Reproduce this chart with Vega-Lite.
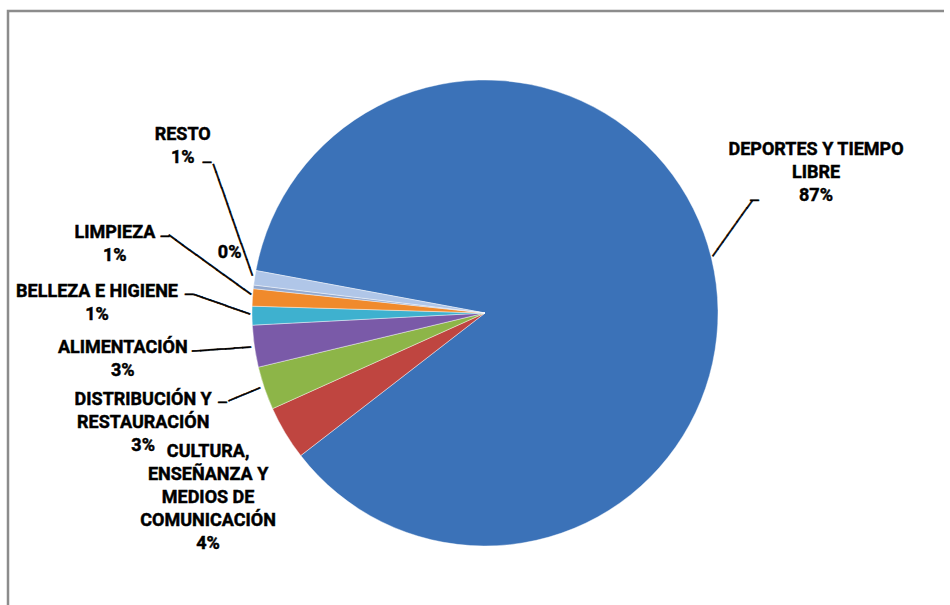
{
  "$schema": "https://vega.github.io/schema/vega-lite/v6.json",
  "width": 954,
  "height": 604,
  "autosize": {"type": "none"},
  "padding": {"left": 8, "top": 11, "right": -12, "bottom": -10},
  "background": "white",
  "config": {"view": {"stroke": null}},
  "data": {
    "values": [
      {"ord": 1, "category": "DEPORTES Y TIEMPO LIBRE", "value": 86.6, "label": "DEPORTES Y TIEMPO\nLIBRE\n87%"},
      {"ord": 2, "category": "CULTURA, ENSEÑANZA Y MEDIOS DE COMUNICACIÓN", "value": 3.75, "label": "CULTURA,\nENSEÑANZA Y\nMEDIOS DE\nCOMUNICACIÓN\n4%"},
      {"ord": 3, "category": "DISTRIBUCIÓN Y RESTAURACIÓN", "value": 3.0, "label": "DISTRIBUCIÓN Y\nRESTAURACIÓN\n3%"},
      {"ord": 4, "category": "ALIMENTACIÓN", "value": 2.9, "label": "ALIMENTACIÓN\n3%"},
      {"ord": 5, "category": "BELLEZA E HIGIENE", "value": 1.3, "label": "BELLEZA E HIGIENE\n1%"},
      {"ord": 6, "category": "LIMPIEZA", "value": 1.2, "label": "LIMPIEZA\n1%"},
      {"ord": 7, "category": "SIN CLASIFICAR", "value": 0.25, "label": "0%"},
      {"ord": 8, "category": "RESTO", "value": 1.0, "label": "RESTO\n1%"}
    ]
  },
  "layer": [
    {
      "data": {"values": [{"frame": 1}]},
      "mark": {"type": "rect", "fill": null, "stroke": "#8c8c8c", "strokeWidth": 2.5, "x": 0, "y": 0, "x2": {"expr": "width + 40"}, "y2": {"expr": "height + 40"}, "strokeDash": [936, 1700, 700]},
      "encoding": {}
    },
    {
      "encoding": {
        "theta": {"field": "value", "type": "quantitative", "stack": true, "scale": {"range": [4.8957, 11.1789]}},
        "order": {"field": "ord", "type": "quantitative"}
      },
      "layer": [
        {
          "mark": {"type": "arc", "outerRadius": 233, "stroke": "#ffffff", "strokeWidth": 0.6, "strokeOpacity": 0.7},
          "encoding": {
            "color": {
              "field": "category", "type": "nominal", "legend": null,
              "scale": {
                "domain": ["DEPORTES Y TIEMPO LIBRE", "CULTURA, ENSEÑANZA Y MEDIOS DE COMUNICACIÓN", "DISTRIBUCIÓN Y RESTAURACIÓN", "ALIMENTACIÓN", "BELLEZA E HIGIENE", "LIMPIEZA", "SIN CLASIFICAR", "RESTO"],
                "range": ["#3b72b8", "#bf4540", "#8db548", "#7a5aa8", "#3eb1cf", "#f08a2c", "#93a9cf", "#b0c6e8"]
              }
            }
          }
        },
        {"mark": {"type": "text", "radius": 355, "dx": -14, "dy": -79.5, "align": "center", "baseline": "middle", "lineBreak": "\n", "font": "Roboto", "fontWeight": "bold", "fontSize": 18, "lineHeight": 23, "color": "#000000", "stroke": "#000000", "strokeWidth": 0.45},
         "encoding": {"text": {"condition": {"test": "datum.ord === 1", "field": "label"}, "value": ""}}},
        {"mark": {"type": "text", "radius": 330, "dx": 6, "dy": -31, "align": "center", "baseline": "middle", "lineBreak": "\n", "font": "Roboto", "fontWeight": "bold", "fontSize": 18, "lineHeight": 23, "color": "#000000", "stroke": "#000000", "strokeWidth": 0.45},
         "encoding": {"text": {"condition": {"test": "datum.ord === 2", "field": "label"}, "value": ""}}},
        {"mark": {"type": "text", "radius": 358, "dx": -3, "dy": -28.5, "align": "center", "baseline": "middle", "lineBreak": "\n", "font": "Roboto", "fontWeight": "bold", "fontSize": 18, "lineHeight": 23, "color": "#000000", "stroke": "#000000", "strokeWidth": 0.45},
         "encoding": {"text": {"condition": {"test": "datum.ord === 3", "field": "label"}, "value": ""}}},
        {"mark": {"type": "text", "radius": 365, "dx": -1, "dy": -17, "align": "center", "baseline": "middle", "lineBreak": "\n", "font": "Roboto", "fontWeight": "bold", "fontSize": 18, "lineHeight": 23, "color": "#000000", "stroke": "#000000", "strokeWidth": 0.45},
         "encoding": {"text": {"condition": {"test": "datum.ord === 4", "field": "label"}, "value": ""}}},
        {"mark": {"type": "text", "radius": 388, "dx": 0, "dy": -25.5, "align": "center", "baseline": "middle", "lineBreak": "\n", "font": "Roboto", "fontWeight": "bold", "fontSize": 18, "lineHeight": 23, "color": "#000000", "stroke": "#000000", "strokeWidth": 0.45},
         "encoding": {"text": {"condition": {"test": "datum.ord === 5", "field": "label"}, "value": ""}}},
        {"mark": {"type": "text", "radius": 374, "dx": 3, "dy": -55, "align": "center", "baseline": "middle", "lineBreak": "\n", "font": "Roboto", "fontWeight": "bold", "fontSize": 18, "lineHeight": 23, "color": "#000000", "stroke": "#000000", "strokeWidth": 0.45},
         "encoding": {"text": {"condition": {"test": "datum.ord === 6", "field": "label"}, "value": ""}}},
        {"mark": {"type": "text", "radius": 261, "dx": 4, "dy": -31, "align": "center", "baseline": "middle", "lineBreak": "\n", "font": "Roboto", "fontWeight": "bold", "fontSize": 18, "lineHeight": 23, "color": "#000000", "stroke": "#000000", "strokeWidth": 0.45},
         "encoding": {"text": {"condition": {"test": "datum.ord === 7", "field": "label"}, "value": ""}}},
        {"mark": {"type": "text", "radius": 324, "dx": 18, "dy": -128.5, "align": "center", "baseline": "middle", "lineBreak": "\n", "font": "Roboto", "fontWeight": "bold", "fontSize": 18, "lineHeight": 23, "color": "#000000", "stroke": "#000000", "strokeWidth": 0.45},
         "encoding": {"text": {"condition": {"test": "datum.ord === 8", "field": "label"}, "value": ""}}},
        {"mark": {"type": "text", "radius": 260.8, "angle": 305.5, "dx": 15.2, "dy": -17.6, "align": "center", "baseline": "middle", "font": "DejaVu Sans Mono", "fontSize": 14, "color": "#000000", "stroke": "#000000", "strokeWidth": 0.6},
         "encoding": {"text": {"condition": {"test": "datum.ord === 1", "value": "────────"}, "value": ""}}},
        {"mark": {"type": "text", "radius": 292.2, "dx": -14.5, "dy": -43.2, "align": "center", "baseline": "middle", "font": "DejaVu Sans Mono", "fontSize": 14, "color": "#000000", "stroke": "#000000", "strokeWidth": 0.6},
         "encoding": {"text": {"condition": {"test": "datum.ord === 1", "value": "─"}, "value": ""}}},
        {"mark": {"type": "text", "radius": 297.5, "dx": 16, "dy": -105, "align": "center", "baseline": "middle", "font": "DejaVu Sans Mono", "fontSize": 14, "color": "#000000", "stroke": "#000000", "strokeWidth": 0.6},
         "encoding": {"text": {"condition": {"test": "datum.ord === 8", "value": "─"}, "value": ""}}},
        {"mark": {"type": "text", "radius": 264.2, "angle": 70.67, "dx": -47.3, "dy": -25.3, "align": "center", "baseline": "middle", "font": "DejaVu Sans Mono", "fontSize": 14, "color": "#000000", "stroke": "#000000", "strokeWidth": 0.6},
         "encoding": {"text": {"condition": {"test": "datum.ord === 8", "value": "──────────────"}, "value": ""}}},
        {"mark": {"type": "text", "radius": 324.4, "dx": 3.7, "dy": -54.3, "align": "center", "baseline": "middle", "font": "DejaVu Sans Mono", "fontSize": 14, "color": "#000000", "stroke": "#000000", "strokeWidth": 0.6},
         "encoding": {"text": {"condition": {"test": "datum.ord === 6", "value": "─"}, "value": ""}}},
        {"mark": {"type": "text", "radius": 278.1, "angle": 35.8, "dx": -15.3, "dy": -24.6, "align": "center", "baseline": "middle", "font": "DejaVu Sans Mono", "fontSize": 14, "color": "#000000", "stroke": "#000000", "strokeWidth": 0.6},
         "encoding": {"text": {"condition": {"test": "datum.ord === 6", "value": "────────────"}, "value": ""}}},
        {"mark": {"type": "text", "radius": 295.8, "dx": 0, "dy": -21.4, "align": "center", "baseline": "middle", "font": "DejaVu Sans Mono", "fontSize": 14, "color": "#000000", "stroke": "#000000", "strokeWidth": 0.6},
         "encoding": {"text": {"condition": {"test": "datum.ord === 5", "value": "─"}, "value": ""}}},
        {"mark": {"type": "text", "radius": 263.4, "angle": 19.3, "dx": -3.7, "dy": -10.4, "align": "center", "baseline": "middle", "font": "DejaVu Sans Mono", "fontSize": 14, "color": "#000000", "stroke": "#000000", "strokeWidth": 0.6},
         "encoding": {"text": {"condition": {"test": "datum.ord === 5", "value": "───────"}, "value": ""}}},
        {"mark": {"type": "text", "radius": 266.1, "angle": 356, "dx": 0, "dy": -1.1, "align": "center", "baseline": "middle", "font": "DejaVu Sans Mono", "fontSize": 14, "color": "#000000", "stroke": "#000000", "strokeWidth": 0.6},
         "encoding": {"text": {"condition": {"test": "datum.ord === 4", "value": "───────"}, "value": ""}}},
        {"mark": {"type": "text", "radius": 277.5, "dx": 0, "dy": 0, "align": "center", "baseline": "middle", "font": "DejaVu Sans Mono", "fontSize": 14, "color": "#000000", "stroke": "#000000", "strokeWidth": 0.6},
         "encoding": {"text": {"condition": {"test": "datum.ord === 3", "value": "─"}, "value": ""}}},
        {"mark": {"type": "text", "radius": 254.0, "angle": 337.6, "dx": 0, "dy": 0, "align": "center", "baseline": "middle", "font": "DejaVu Sans Mono", "fontSize": 14, "color": "#000000", "stroke": "#000000", "strokeWidth": 0.6},
         "encoding": {"text": {"condition": {"test": "datum.ord === 3", "value": "────"}, "value": ""}}}
      ]
    }
  ]
}
